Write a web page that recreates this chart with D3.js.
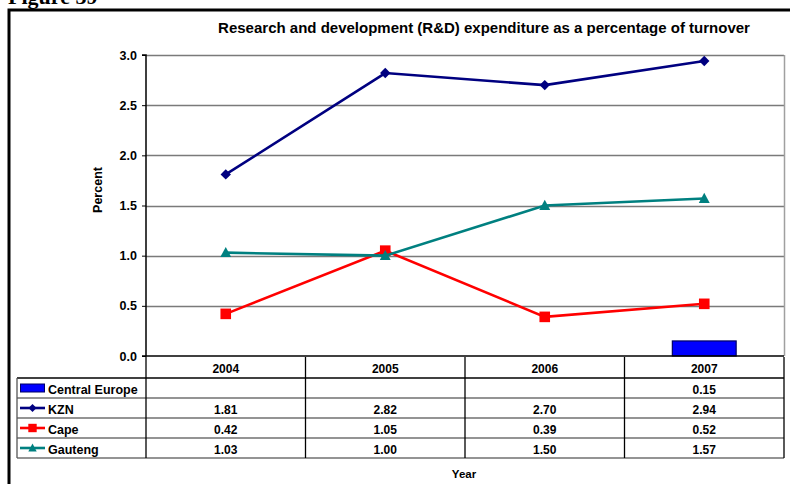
<!DOCTYPE html>
<html>
<head>
<meta charset="utf-8">
<script src="https://cdn.jsdelivr.net/npm/d3@7"></script>
<style>
  html, body { margin: 0; padding: 0; background: #fff; }
  svg { display: block; font-family: Arial, "Liberation Sans", sans-serif; }
</style>
</head>
<body>
<svg id="chart" width="790" height="484"></svg>
<script>
// Years on the category axis
const years = ["2004", "2005", "2006", "2007"];
// R&D expenditure as % of turnover
const centralEurope = [null, null, null, 0.15];
const kzn = [1.81, 2.82, 2.70, 2.94];
const cape = [0.42, 1.05, 0.39, 0.52];
const gauteng = [1.03, 1.00, 1.50, 1.57];
const yTicks = [0, 0.5, 1.0, 1.5, 2.0, 2.5, 3.0];

const seriesList = [
  { name: "Central Europe", values: centralEurope, type: "bar", color: "#0000ff", stroke: "#000066" },
  { name: "KZN", values: kzn, type: "line", color: "#000080", marker: "diamond" },
  { name: "Cape", values: cape, type: "line", color: "#ff0000", marker: "square" },
  { name: "Gauteng", values: gauteng, type: "line", color: "#008080", marker: "triangle" }
];

const svg = d3.select("#chart");
const plot = { left: 146, right: 784, top: 55, bottom: 356 };

const x = d3.scaleBand().domain(years).range([plot.left, plot.right]);
const y = d3.scaleLinear().domain([0, 3]).range([plot.bottom, plot.top]);

// Outer frame and caption
svg.append("text").attr("x", 8).attr("y", 4)
  .attr("font-family", "'Liberation Serif', 'Times New Roman', serif")
  .attr("font-weight", "bold").attr("font-size", 22).text("Figure 39");
svg.append("path").attr("d", "M9,490 L9,10 L800,10")
  .attr("fill", "none").attr("stroke", "#000").attr("stroke-width", 3);

// Title
svg.append("text").attr("x", 484).attr("y", 33).attr("text-anchor", "middle")
  .attr("font-weight", "bold").attr("font-size", 15)
  .text("Research and development (R&D) expenditure as a percentage of turnover");

// Gridlines
svg.append("g").selectAll("line").data(yTicks.filter(d => d > 0)).join("line")
  .attr("x1", plot.left).attr("x2", plot.right)
  .attr("y1", d => Math.round(y(d)) + 0.5).attr("y2", d => Math.round(y(d)) + 0.5)
  .attr("stroke", "#7a7a7a").attr("stroke-width", 1.6);
// Right plot border
svg.append("line").attr("x1", plot.right + 0.5).attr("x2", plot.right + 0.5)
  .attr("y1", plot.top).attr("y2", plot.bottom).attr("stroke", "#a0a0a0").attr("stroke-width", 1.5);

// Y axis
const yAxis = d3.axisLeft(y).tickValues(yTicks).tickFormat(d3.format(".1f")).tickSize(4).tickPadding(5);
const gy = svg.append("g").attr("transform", `translate(${plot.left},0)`).call(yAxis);
gy.select(".domain").attr("stroke", "#000").attr("stroke-width", 1.5).attr("d", `M-4,${y(3)}H0V${y(0)}H-4`);
gy.selectAll(".tick line").attr("stroke", "#000");
gy.selectAll(".tick text").attr("font-size", 12.5).attr("font-weight", "bold").attr("fill", "#000")
  .attr("font-family", "Arial, 'Liberation Sans', sans-serif");

svg.append("text").attr("transform", "translate(102,190) rotate(-90)")
  .attr("text-anchor", "middle").attr("font-weight", "bold").attr("font-size", 12.5).text("Percent");

// Bars
const barSeries = seriesList.filter(s => s.type === "bar");
barSeries.forEach(s => {
  const bw = x.bandwidth() * 0.4;
  svg.append("g").selectAll("rect")
    .data(s.values.map((v, i) => ({ v, year: years[i] })).filter(d => d.v != null))
    .join("rect")
    .attr("x", d => x(d.year) + (x.bandwidth() - bw) / 2)
    .attr("width", bw)
    .attr("y", d => y(d.v))
    .attr("height", d => y(0) - y(d.v))
    .attr("fill", s.color).attr("stroke", s.stroke).attr("stroke-width", 1.2);
});

// Zero line
svg.append("line").attr("x1", plot.left).attr("x2", plot.right)
  .attr("y1", y(0)).attr("y2", y(0)).attr("stroke", "#000").attr("stroke-width", 1.5);

function markerPath(kind, s) {
  if (kind === "diamond") return `M0,${-s}L${s},0L0,${s}L${-s},0Z`;
  if (kind === "square") return `M${-s},${-s}H${s}V${s}H${-s}Z`;
  return `M0,${-s * 1.1}L${s * 1.05},${s * 0.85}H${-s * 1.05}Z`;
}

// Lines and markers
const cx = d => x(d.year) + x.bandwidth() / 2;
seriesList.filter(s => s.type === "line").forEach(s => {
  const pts = s.values.map((v, i) => ({ v, year: years[i] }));
  const line = d3.line().x(cx).y(d => y(d.v));
  svg.append("path").datum(pts).attr("d", line)
    .attr("fill", "none").attr("stroke", s.color).attr("stroke-width", 2.6);
  const size = s.marker === "diamond" ? 5.2 : (s.marker === "square" ? 5.3 : 5.2);
  svg.append("g").selectAll("path").data(pts).join("path")
    .attr("transform", d => `translate(${cx(d)},${y(d.v)})`)
    .attr("d", markerPath(s.marker, size))
    .attr("fill", s.color);
});

// Data table
const tbl = { left: 17, top: 357, headerH: 21, rowH: 20 };
const rowsTop = tbl.top + tbl.headerH;
const tblBottom = rowsTop + tbl.rowH * seriesList.length;
const tg = svg.append("g");

// Row separators
seriesList.forEach((s, i) => {
  const yy = rowsTop + i * tbl.rowH;
  tg.append("line").attr("x1", tbl.left).attr("x2", plot.right)
    .attr("y1", yy).attr("y2", yy).attr("stroke", i === 0 ? "#000" : "#707070").attr("stroke-width", 1.3);
});
tg.append("line").attr("x1", tbl.left).attr("x2", plot.right)
  .attr("y1", tblBottom).attr("y2", tblBottom).attr("stroke", "#707070").attr("stroke-width", 1.3);
// Column borders
tg.append("line").attr("x1", tbl.left).attr("x2", tbl.left)
  .attr("y1", rowsTop).attr("y2", tblBottom).attr("stroke", "#555").attr("stroke-width", 1.3);
tg.selectAll("line.col").data(years.concat(["end"])).join("line").attr("class", "col")
  .attr("x1", d => d === "end" ? plot.right : x(d)).attr("x2", d => d === "end" ? plot.right : x(d))
  .attr("y1", tbl.top).attr("y2", tblBottom).attr("stroke", "#000").attr("stroke-width", 1.3);

// Header years
tg.selectAll("text.yr").data(years).join("text").attr("class", "yr")
  .attr("x", d => x(d) + x.bandwidth() / 2).attr("y", tbl.top + 15.5)
  .attr("text-anchor", "middle").attr("font-weight", "bold").attr("font-size", 12).text(d => d);

seriesList.forEach((s, i) => {
  const cy = rowsTop + i * tbl.rowH + tbl.rowH / 2 + 1;
  // Legend key
  if (s.type === "bar") {
    tg.append("rect").attr("x", 20.5).attr("y", cy - 5).attr("width", 24).attr("height", 8)
      .attr("fill", s.color).attr("stroke", s.stroke).attr("stroke-width", 1);
  } else {
    tg.append("line").attr("x1", 20).attr("x2", 45).attr("y1", cy - 1).attr("y2", cy - 1)
      .attr("stroke", s.color).attr("stroke-width", 2.6);
    tg.append("path").attr("transform", `translate(32.5,${cy - 1})`)
      .attr("d", markerPath(s.marker, s.marker === "square" ? 4.2 : 4)).attr("fill", s.color);
  }
  tg.append("text").attr("x", 48).attr("y", cy + 4.5).attr("font-weight", "bold").attr("font-size", 12.5)
    .text(s.name);
  // Values
  tg.selectAll(null).data(s.values.map((v, j) => ({ v, year: years[j] })).filter(d => d.v != null))
    .join("text").attr("x", d => x(d.year) + x.bandwidth() / 2).attr("y", cy + 4.5)
    .attr("text-anchor", "middle").attr("font-weight", "bold").attr("font-size", 12)
    .text(d => d.v.toFixed(2));
});

// X axis title
svg.append("text").attr("x", 464).attr("y", 478).attr("text-anchor", "middle")
  .attr("font-weight", "bold").attr("font-size", 11.5).text("Year");
</script>
</body>
</html>
